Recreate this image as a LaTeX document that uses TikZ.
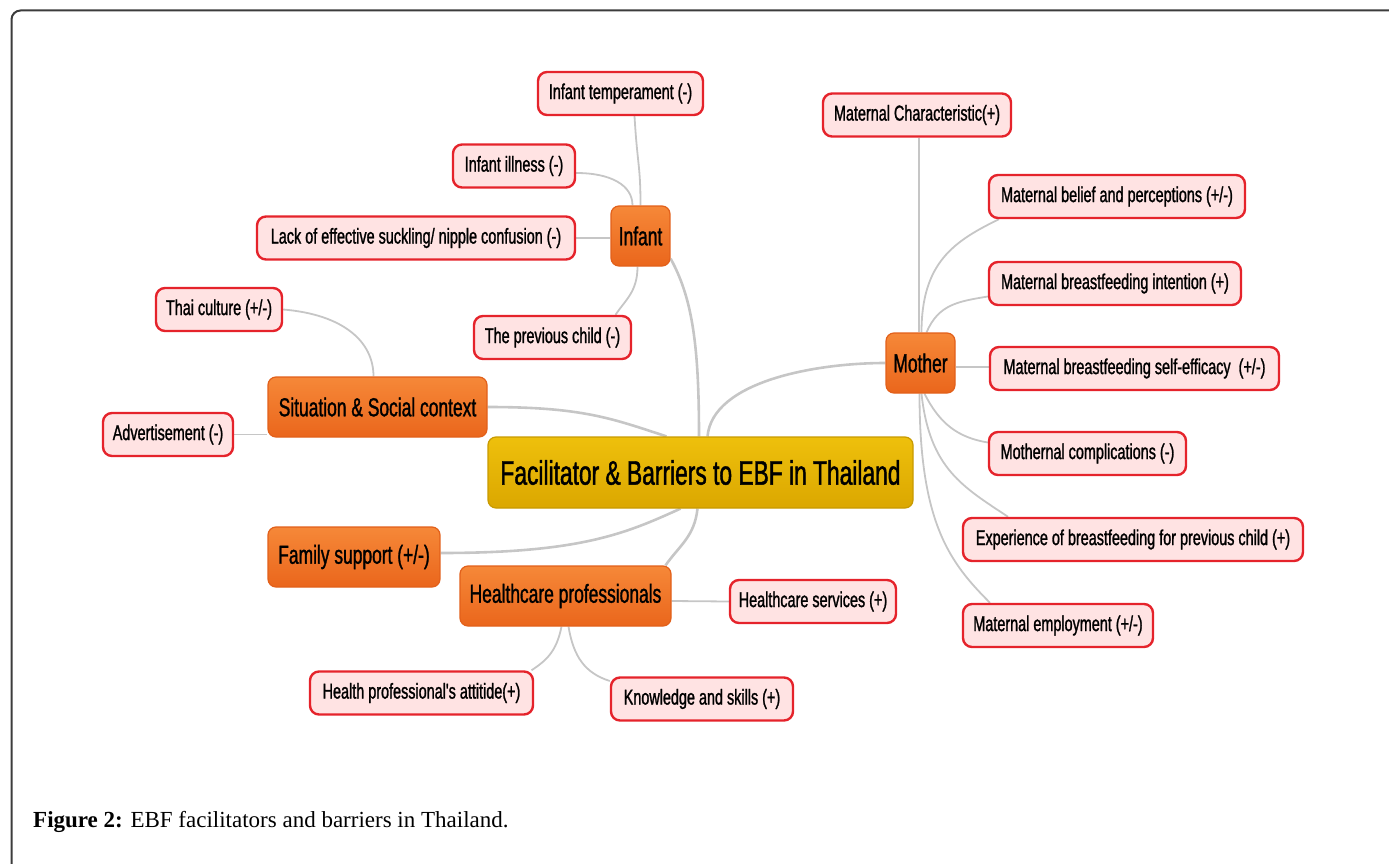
\documentclass[tikz,border=0pt]{standalone}
\usepackage{fontspec}
\usetikzlibrary{backgrounds}
\newfontfamily\nar[FakeStretch=0.67,FakeBold=1.2]{Liberation Sans}
\newfontfamily\capfont{Liberation Serif}
\definecolor{orgtop}{HTML}{F68838}
\definecolor{orgbot}{HTML}{EA661C}
\definecolor{orgline}{HTML}{E2601A}
\definecolor{yeltop}{HTML}{EEC00C}
\definecolor{yelbot}{HTML}{DBA700}
\definecolor{yelline}{HTML}{C89A00}
\definecolor{leaffill}{HTML}{FFE3E3}
\definecolor{leafline}{HTML}{E5232B}
\definecolor{edgegray}{HTML}{C6C6C6}
\definecolor{framegray}{HTML}{3C3C3C}
\tikzset{
  centerbox/.style={draw=yelline, line width=1.2pt, top color=yeltop, bottom color=yelbot,
    rounded corners=8pt, inner sep=0pt, font=\nar\fontsize{34}{38}\selectfont},
  topicbox/.style={draw=orgline, line width=1.2pt, top color=orgtop, bottom color=orgbot,
    rounded corners=8pt, inner sep=0pt, minimum height=60pt, font=\nar\fontsize{26}{30}\selectfont},
  leafbox/.style={draw=leafline, line width=2.4pt, fill=leaffill,
    rounded corners=9pt, inner sep=0pt, minimum height=43pt, font=\nar\fontsize{21.5}{24}\selectfont},
  link/.style={draw=edgegray, line width=1.8pt},
  mainlink/.style={draw=edgegray, line width=2.6pt}
}
\begin{document}
\begin{tikzpicture}[x=1pt,y=-1pt]
\useasboundingbox (0,0) rectangle (1389,864);
\clip (0,0) rectangle (1389,864);
\draw[framegray, line width=2pt, rounded corners=9pt] (11.5,10.5) rectangle (1430,910);

% central and topic nodes
\node[centerbox, minimum width=425pt, minimum height=71pt] (c) at (700.5,472.5) {Facilitator \& Barriers to EBF in Thailand};
\node[topicbox, minimum width=59pt] (inf) at (640.5,236) {Infant};
\node[topicbox, minimum width=69pt] (mot) at (920.5,363) {Mother};
\node[topicbox, minimum width=219pt] (sit) at (377.5,407) {Situation \& Social context};
\node[topicbox, minimum width=172pt] (fam) at (354,557) {Family support (+/-)};
\node[topicbox, minimum width=211pt] (hc) at (565.5,596) {Healthcare professionals};

% leaves
\node[leafbox, minimum width=165pt] (temper) at (620.5,93.5) {Infant temperament (-)};
\node[leafbox, minimum width=122pt] (ill) at (514,166) {Infant illness (-)};
\node[leafbox, minimum width=318pt] (lack) at (416,238) {Lack of effective suckling/ nipple confusion (-)};
\node[leafbox, minimum width=157pt] (prev) at (552.5,337.5) {The previous child (-)};
\node[leafbox, minimum width=126pt] (thai) at (219,309.5) {Thai culture (+/-)};
\node[leafbox, minimum width=130pt] (adv) at (168,434.5) {Advertisement (-)};
\node[leafbox, minimum width=188pt] (mchar) at (917,115) {Maternal Characteristic(+)};
\node[leafbox, minimum width=256pt] (belief) at (1117,196.5) {Maternal belief and perceptions (+/-)};
\node[leafbox, minimum width=252pt] (intent) at (1115,283.5) {Maternal breastfeeding intention (+)};
\node[leafbox, minimum width=289pt] (self) at (1134.5,368.5) {Maternal breastfeeding self-efficacy~ (+/-)};
\node[leafbox, minimum width=197pt] (compl) at (1087.5,453.5) {Mothernal complications (-)};
\node[leafbox, minimum width=340pt] (exper) at (1133,539.5) {Experience of breastfeeding for previous child (+)};
\node[leafbox, minimum width=190pt] (employ) at (1058,625.5) {Maternal employment (+/-)};
\node[leafbox, minimum width=166pt] (serv) at (813,601.5) {Healthcare services (+)};
\node[leafbox, minimum width=223pt] (att) at (421.5,693) {Health professional's attitide(+)};
\node[leafbox, minimum width=182pt] (know) at (702,699) {Knowledge and skills (+)};

% caption
\node[anchor=base west, inner sep=0pt, font=\capfont\fontsize{23}{26}\selectfont] (cap) at (33,827) {\textbf{Figure 2:} EBF facilitators and barriers in Thailand.};

\begin{pgfonlayer}{background}
% main links
\draw[mainlink] ([yshift=8pt]inf.south east) .. controls +(22,40) and +(0,-90) .. ([xshift=-1.5pt]c.north);
\draw[mainlink] ([xshift=7pt]c.north) .. controls +(5,-55) and +(-70,0) .. (mot.west);
\draw[mainlink] (sit.east) .. controls +(95,0) and +(-55,-18) .. ([xshift=-34pt]c.north);
\draw[mainlink] ([yshift=4pt]fam.east) .. controls +(140,0) and +(-55,25) .. ([xshift=-20pt]c.south);
\draw[mainlink] ([xshift=-3pt]c.south) .. controls +(-3,28) and +(14,-20) .. ([xshift=100pt]hc.north);
% infant links
\draw[link] ([xshift=14pt]temper.south) .. controls +(3,50) and +(0,-40) .. (inf.north);
\draw[link] ([yshift=-7pt]ill.east) .. controls +(35,0) and +(0,-20) .. ([xshift=-8pt]inf.north);
\draw[link] (lack.east) -- (lack.east -| inf.west);
\draw[link] ([xshift=-3pt]inf.south) .. controls +(0,25) and +(10,-15) .. ([xshift=63pt]prev.north);
% situation links
\draw[link] (thai.east) .. controls +(60,5) and +(0,-35) .. ([xshift=-4pt]sit.north);
\draw[link] (adv.east) -- (adv.east -| sit.west);
% mother links
\draw[link] ([xshift=2pt]mchar.south) -- ([xshift=-1.5pt]mot.north);
\draw[link] ([xshift=1pt]mot.north) .. controls +(0,-70) and +(-45,22) .. ([xshift=-118pt]belief.south);
\draw[link] ([xshift=6pt]mot.north) .. controls +(12,-28) and +(-30,5) .. ([yshift=-13pt]intent.west);
\draw[link] ([yshift=-4pt]mot.east) -- ([yshift=-4pt]mot.east -| self.west);
\draw[link] ([xshift=4pt]mot.south) .. controls +(15,30) and +(-30,-5) .. ([yshift=11pt]compl.west);
\draw[link] ([xshift=1pt]mot.south) .. controls +(8,75) and +(-45,-30) .. ([xshift=-125pt]exper.north);
\draw[link] ([xshift=-1pt]mot.south) .. controls +(0,130) and +(-40,-40) .. ([xshift=-68pt]employ.north);
% healthcare links
\draw[link] ([yshift=-5pt]hc.east) -- (serv.west);
\draw[link] ([xshift=-4pt]hc.south) .. controls +(-5,25) and +(15,-10) .. ([xshift=110pt]att.north);
\draw[link] ([xshift=3pt]hc.south) .. controls +(5,30) and +(-25,-8) .. ([yshift=18pt]know.west);
\end{pgfonlayer}
\end{tikzpicture}
\end{document}
